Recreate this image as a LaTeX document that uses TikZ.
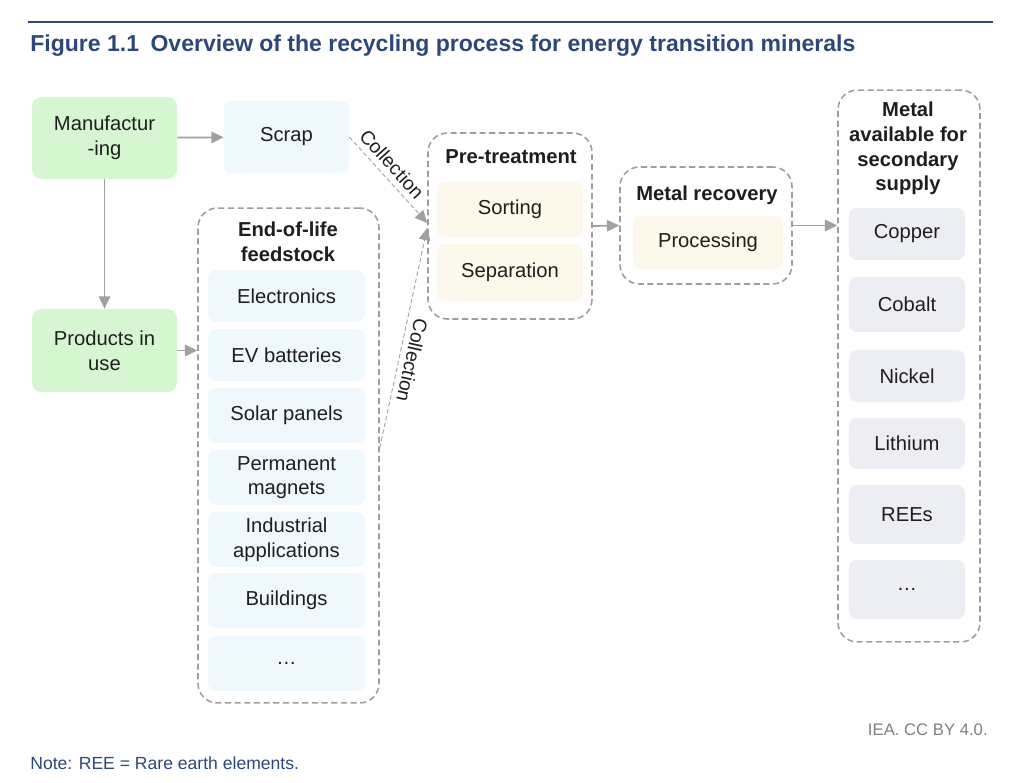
\documentclass[tikz,border=0pt]{standalone}
\usepackage{fontspec}
\setmainfont{Liberation Sans}
\usetikzlibrary{arrows.meta,positioning,calc}
\definecolor{ieablue}{RGB}{44,72,120}
\definecolor{manugreen}{RGB}{213,246,209}
\definecolor{eolblue}{RGB}{239,249,253}
\definecolor{procream}{RGB}{252,248,235}
\definecolor{metalgray}{RGB}{236,238,243}
\definecolor{dashgray}{RGB}{158,158,158}
\definecolor{arrgray}{RGB}{160,160,160}
\definecolor{txtblack}{RGB}{30,30,30}

\begin{document}
\begin{tikzpicture}[x=0.02cm,y=-0.02cm,>={Triangle[length=7pt,width=6.5pt]},
  font=\fontsize{11.5}{14}\selectfont, text=txtblack,
  green/.style={fill=manugreen,rounded corners=5.5pt,minimum width=2.9cm,minimum height=#1,inner sep=0pt,align=center},
  eolitem/.style={fill=eolblue,rounded corners=4.5pt,minimum width=3.14cm,minimum height=#1,inner sep=0pt,align=center},
  proitem/.style={fill=procream,rounded corners=4.5pt,minimum height=#1,inner sep=0pt,align=center},
  metitem/.style={fill=metalgray,rounded corners=4.5pt,minimum width=2.32cm,minimum height=#1,inner sep=0pt,align=center},
  group/.style={draw=dashgray,line width=0.9pt,dash pattern=on 3.5pt off 2pt,rounded corners=11pt,inner sep=0pt},
  grouptitle/.style={font=\bfseries\fontsize{11.5}{14}\selectfont,align=center,inner sep=0pt},
  flow/.style={->,draw=arrgray,line width=1pt},
  coll/.style={->,draw=arrgray,line width=0.5pt,dash pattern=on 2.5pt off 1.5pt}]
  \useasboundingbox (0,0) rectangle (1024,783);

  \draw[ieablue,line width=1.2pt] (28,22) -- (993,22);
  \node[anchor=west,inner sep=0pt,text=ieablue,font=\bfseries\fontsize{13.1}{15}\selectfont] (title) at (30,46)
    {Figure 1.1\enspace Overview of the recycling process for energy transition minerals};

  \node[green=1.64cm] (manu) at (104.5,138) {Manufactur\\-ing};
  \node[eolitem=1.46cm,minimum width=2.5cm] (scrap) at (286.5,137) {Scrap};
  \node[green=1.66cm] (prod) at (104.5,350.5) {Products in\\use};

  \node[group,minimum width=3.62cm,minimum height=9.9cm] (eol) at (288.5,455.5) {};
  \node[grouptitle] (eoltitle) at (288,241.5) {End-of-life\\feedstock};
  \node[eolitem=1.04cm] (elec) at (286.5,296) {Electronics};
  \node[eolitem=1.04cm] (ev) at (286.5,355) {EV batteries};
  \node[eolitem=1.1cm] (solar) at (286.5,415.5) {Solar panels};
  \node[eolitem=1.1cm] (magnet) at (286.5,477.5) {Permanent\\magnets};
  \node[eolitem=1.1cm] (indus) at (286.5,539.5) {Industrial\\applications};
  \node[eolitem=1.1cm] (build) at (286.5,600.5) {Buildings};
  \node[eolitem=1.1cm] (eolmore) at (286.5,663.5) {\dots};

  \node[group,minimum width=3.28cm,minimum height=3.72cm] (pre) at (510,226) {};
  \node[grouptitle] (pretitle) at (511,157) {Pre-treatment};
  \node[proitem=1.1cm,minimum width=2.92cm] (sort) at (510,209.5) {Sorting};
  \node[proitem=1.14cm,minimum width=2.92cm] (sep) at (510,272.5) {Separation};

  \node[group,minimum width=3.44cm,minimum height=2.34cm] (rec) at (706,225.5) {};
  \node[grouptitle] (rectitle) at (707,195) {Metal recovery};
  \node[proitem=1.06cm,minimum width=3cm] (procs) at (708,242.5) {Processing};

  \node[group,minimum width=2.84cm,minimum height=11.04cm] (avail) at (909,366) {};
  \node[grouptitle] (availtitle) at (908,148.5) {Metal\\available for\\secondary\\supply};
  \node[metitem=1.04cm] (copper) at (907,234) {Copper};
  \node[metitem=1.1cm] (cobalt) at (907,304.5) {Cobalt};
  \node[metitem=1.04cm] (nickel) at (907,376) {Nickel};
  \node[metitem=1.02cm] (lith) at (907,443.5) {Lithium};
  \node[metitem=1.18cm] (rees) at (907,514.5) {REEs};
  \node[metitem=1.18cm] (metmore) at (907,589.5) {\dots};

  \draw[flow] (manu) -- (scrap);
  \draw[flow] (manu) -- (prod);
  \draw[flow] (prod.east) -- (prod.east -| eol.west);
  \draw[flow] (pre.east) -- (rec.west);
  \draw[flow] (rec.east) -- (rec.east -| avail.west);

  \coordinate (in1) at ([yshift=1.7pt]pre.west);
  \coordinate (in2) at ([yshift=-1.1pt]pre.west);
  \coordinate (out2) at ([yshift=4.5pt]eol.east);
  \draw[coll] (scrap.east) -- node[sloped,above,pos=0.42,font=\fontsize{11}{13}\selectfont] {Collection} (in1);
  \draw[coll] (out2) -- node[pos=0.41,rotate=-102.6,anchor=south,font=\fontsize{11}{13}\selectfont] {Collection} (in2);

  \node[anchor=east,inner sep=0pt,text=gray,font=\fontsize{9.5}{11}\selectfont] (credit) at (988,730) {IEA. CC BY 4.0.};
  \node[anchor=west,inner sep=0pt,text=ieablue,font=\fontsize{10}{12}\selectfont] (note) at (30,763) {Note: REE = Rare earth elements.};
\end{tikzpicture}
\end{document}
